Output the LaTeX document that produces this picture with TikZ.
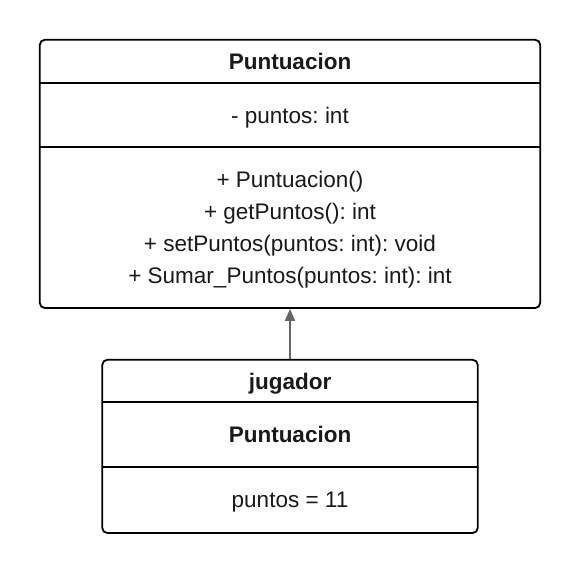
\documentclass[tikz,border=0pt]{standalone}
\usepackage{fontspec}
\setmainfont{Liberation Sans}
\usetikzlibrary{positioning, arrows.meta, fit}

\newcommand{\umlfont}{\fontsize{22.5}{32}\selectfont\frenchspacing}

\begin{document}
\begin{tikzpicture}[
    x=1pt, y=1pt,
    part/.style={
        rectangle, draw=none, inner sep=0pt, align=center, text depth=0pt,
        minimum width=#1, font=\umlfont, text=black!90
    },
    titlepart/.style={part=#1, font=\umlfont\bfseries},
    umlbox/.style={
        rectangle, draw=black, line width=1.8pt, rounded corners=5pt, inner sep=0pt
    },
    divider/.style={draw=black, line width=1.8pt},
    inherit/.style={-{Triangle[length=12pt, width=10pt]}, draw=black!60, line width=1.6pt}
]
\useasboundingbox (0,0) rectangle (580,-572);

% ---------------- Class Puntuacion ----------------
\node[titlepart=500pt, minimum height=42.5pt] (cls_title) at (290,-61.25) {Puntuacion};
\node[part=500pt, minimum height=64pt, below=0pt of cls_title] (cls_attr) {- puntos: int};
\node[part=500pt, minimum height=160.5pt, below=0pt of cls_attr] (cls_ops)
    {+ Puntuacion()\\ + getPuntos(): int\\ + setPuntos(puntos: int): void\\ + Sumar\_Puntos(puntos: int): int};
\node[umlbox, fit=(cls_title)(cls_attr)(cls_ops)] (cls_box) {};
\draw[divider] (cls_attr.north west) -- (cls_attr.north east);
\draw[divider] (cls_ops.north west) -- (cls_ops.north east);

% ---------------- Object jugador ----------------
\node[titlepart=375pt, minimum height=42pt] (obj_title) at (290,-381) {jugador};
\node[titlepart=375pt, minimum height=64pt, below=0pt of obj_title] (obj_class) {Puntuacion};
\node[part=375pt, minimum height=66pt, below=0pt of obj_class] (obj_value) {puntos = 11};
\node[umlbox, fit=(obj_title)(obj_class)(obj_value)] (obj_box) {};
\draw[divider] (obj_class.north west) -- (obj_class.north east);
\draw[divider] (obj_value.north west) -- (obj_value.north east);

% ---------------- Arrows ----------------
\draw[inherit] (obj_box.north) -- (cls_box.south);

\end{tikzpicture}
\end{document}
